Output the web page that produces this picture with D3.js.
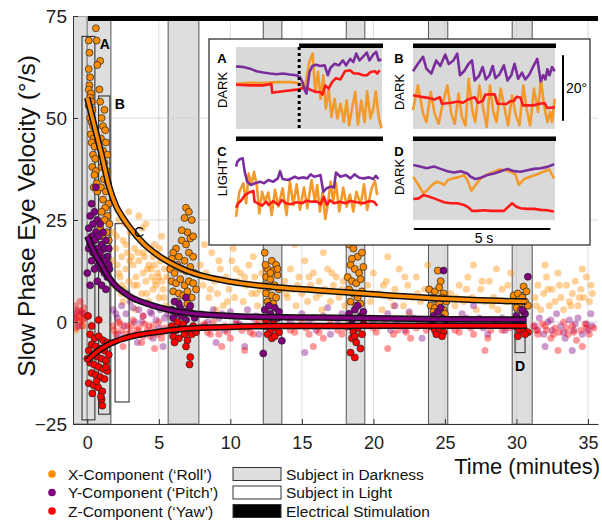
<!DOCTYPE html>
<html>
<head>
<meta charset="utf-8">
<script src="https://cdn.jsdelivr.net/npm/d3@7"></script>
<style>
  body { margin: 0; background: #fff; }
  svg { font-family: "Liberation Sans", Arial, sans-serif; }
</style>
</head>
<body>
<svg id="chart" width="602" height="521"></svg>
<script>
// ---- main panel data (minutes, deg/s) ----
const darkPeriods = [[-1, 0], [0, 1.65], [5.65, 7.8], [12.3, 13.6], [18.1, 19.4], [23.85, 25.2], [29.7, 31.1]]
const stimStart = 0.05
const sampleBoxes = [
  { label: 'A', t: [-0.37, 0.53], v: [-24, 70], bold: true },
  { label: 'B', t: [0.79, 1.58], v: [-22.6, 55.4], bold: true },
  { label: 'C', t: [1.94, 2.92], v: [-19.6, 24.1], bold: false },
  { label: 'D', t: [29.9, 30.6], v: [-7.5, 7.2], bold: true }
]
const xTicks = [0, 5, 10, 15, 20, 25, 30, 35]
const yTicks = [-25, 0, 25, 50, 75]

// fitted curves
const fitT = [0, 0.5, 1, 1.5, 2, 2.5, 3, 4, 5, 7, 10, 13, 16, 20, 25, 30.7]
const fitRoll = [55, 48, 41, 33.5, 28.5, 25.5, 23, 19, 16.2, 12.5, 9.9, 8.6, 7.8, 6.8, 5.7, 5.0]
const fitPitch = [21, 17, 14, 11, 8.8, 7.4, 6.2, 4.7, 3.6, 2.2, 1.5, 1.2, 1.1, 0.9, 0.7, 0.6]
const fitYaw = [-9.5, -7.8, -6.5, -5.5, -4.7, -4.1, -3.6, -2.9, -2.4, -1.6, -1.2, -1.0, -1.0, -0.9, -0.9, -0.9]

// samples recorded in darkness [t, v]
const rollDark = [
  [0.1,69],[0.15,66],[0.1,62],[0.2,60],[0.15,58],[0.1,57],[0.25,56],[0.2,55],[0.3,54],[0.1,53],[0.35,52],[0.2,50],[0.3,49],[0.4,48],[0.25,46],[0.45,45],[0.3,44],[0.5,43],[0.4,41],[0.55,40],[0.35,38],[0.6,37],[0.5,36],[0.65,34],[0.45,33],[0.7,32],
  [0.6,72],[0.65,69],[0.9,64],[0.7,63],[0.85,57],[0.9,54],[1.2,52],[1.0,50],[1.1,48],[1.25,47],[0.95,45],[1.3,44],[1.1,42],[1.4,41],[1.2,39],[1.0,38],[1.35,37],[1.15,35],[1.45,34],[0.95,33],[1.3,32],[1.1,30],[1.5,29],[1.25,28],[1.0,27],[1.4,26],[1.2,25],[1.55,24],[0.9,23],[1.35,22],[1.05,21],[1.5,20],[1.2,18],[1.4,16],
  [6.9,28],[7.1,27],[6.8,25.5],[7.3,25],[7.0,22],[6.6,20],[7.2,20.5],[6.2,18],[6.0,17],[5.9,15.5],[6.4,16],[6.8,15],[7.1,17],[7.4,16],[5.8,13],[6.1,12],[6.3,14],[6.6,13],[6.9,12.5],[7.2,13.5],[7.5,12],[5.9,10],[6.2,9.5],[6.5,10.5],[6.8,9],[7.1,10],[7.4,9.5],[6.0,7.5],[6.4,7],[6.7,6.5],[7.0,7.5],[7.3,6],[7.6,8],[6.3,5],[7.0,4.5],[6.6,22.5],[6.9,19],[7.4,21],
  [12.4,17],[12.9,15],[13.2,14],[12.6,13],[13.0,12.5],[12.5,11],[12.8,10.5],[13.3,11.5],[12.4,9],[12.7,8.5],[13.1,9],[13.4,8],[12.5,7],[12.9,6.5],[13.2,6],[12.6,5],[13.0,4.5],[12.8,12],[13.3,13],[12.45,14],
  [18.3,19],[18.6,18],[18.9,16],[19.2,17],[18.4,14],[18.7,13],[19.0,12],[19.3,13.5],[18.2,11],[18.5,10],[18.8,9.5],[19.1,10.5],[18.3,8],[18.6,7],[18.9,6],[19.2,7.5],[18.4,5],[18.8,4],[19.1,4.5],[18.5,15.5],[19.0,20],
  [24.5,12.6],[24.7,10],[23.9,8],[24.3,7.5],[24.6,8.5],[24.9,7],[24.1,6],[24.4,5.5],[24.8,6],[25.1,5],[24.0,4],[24.3,3.5],[24.6,4.5],[24.9,3],[24.2,2.5],[25.0,2],
  [30.5,8.7],[29.8,6.5],[30.1,7],[30.4,6],[30.7,7.5],[29.9,5],[30.2,4.5],[30.6,5],[30.0,3.5],[30.3,3],[30.8,4],[30.5,2.5]
]
const pitchDark = [
  [0.6,33],[0.3,29],[0.5,27],[0.2,26],[0.7,25],[0.4,24],[0.9,24],[0.1,23],[0.6,22],[1.1,22],[0.3,21],[0.8,21],[1.3,20],[0.5,20],[1.0,19],[0.2,19],[0.7,18],[1.2,18],[1.5,18],[0.4,17],[0.9,17],[1.4,16],[0.6,16],[1.1,15.5],[0.3,15],[1.3,15],[0.8,14],[1.5,14],[1.0,13],[0.5,13],[1.2,12],[1.4,11],[0.7,10],[1.0,9],[0.0,12],[0.1,18],[1.55,13],[0.2,9],[1.3,8],
  [5.9,3],[6.2,2],[6.5,3.5],[6.8,2.5],[7.1,3],[7.4,2],[6.0,1],[6.6,1.5],[7.2,4],[6.4,4.5],[6.9,0.5],[7.5,1],[6.1,5],[6.9,6],
  [12.4,3],[12.8,2],[13.1,3.5],[13.4,2.5],[12.6,1],[13.0,0.5],[12.7,4],[13.3,1],[12.3,-7.7],[13.6,-4.6],
  [18.3,2],[18.7,3],[19.1,1.5],[18.5,0.5],[18.9,4],[19.3,2.5],[18.4,-1],
  [24.9,12.6],[24.2,1.5],[24.5,2.5],[24.8,1],[24.1,0],[24.7,3.5],[25.1,0.5],
  [30.8,11.1],[30.0,1.5],[30.3,0.5],[30.6,2],[29.9,-0.5],[30.4,3]
]
const yawDark = [
  [0.05,1.5],[0.3,-1],[0.8,0.5],
  [0.2,-3],[0.5,-4],[0.8,-3.5],[1.1,-4.5],[1.4,-5],[0.3,-5.5],[0.6,-6],[0.9,-6.5],[1.2,-7],[0.1,-7],[0.4,-8],[0.7,-8.5],[1.0,-9],[1.3,-9.5],[1.5,-8],[0.2,-10],[0.5,-10.5],[0.8,-11],[1.1,-11.5],[1.4,-12],[0.3,-12.5],[0.6,-13],[0.9,-13.5],[1.2,-14],[0.1,-15],[0.45,-15.5],[0.75,-16],[1.05,-17],[0.35,-17.5],[1.0,-19],[1.05,-20.5],[0.95,-18.3],[0.65,-14.5],[1.3,-11],[0.0,-9],
  [5.9,-1],[6.2,-2],[6.5,-1.5],[6.8,-3],[7.1,-2],[7.4,-1],[6.0,-3.5],[6.4,-4],[6.7,-0.5],[7.0,-4.5],[7.3,-3],[7.6,-2.5],[6.3,0],[6.9,-6],[7.2,-8.6],[7.15,-10.4],[6.1,-5],
  [12.4,-1],[12.8,-2],[13.2,-1.5],[12.6,-3],[13.0,-0.5],[13.4,-2.5],[12.9,-4],[12.5,0.5],[13.1,-3.5],
  [18.3,-1],[18.6,-2.5],[18.9,-1.5],[19.2,-3],[18.5,-4],[18.8,-5],[19.1,-6.5],[18.4,-7.5],[18.7,-3.5],[19.3,-0.5],[18.7,-8.7],
  [24.0,-1],[24.3,-2],[24.6,-1.5],[24.9,-2.5],[24.4,-3],[24.8,-3.5],
  [29.9,-1],[30.2,-2],[30.5,-1.5],[30.8,-2.5],[30.1,-3.5],[30.6,-3]
]

// samples recorded in light [t, v]
const rollLight = [
  [-0.8,-2],[-0.5,1],[-0.3,-1],
  [1.8,22],[2.0,18],[2.1,14],[2.2,25],[2.3,11],[2.4,16],[2.5,20],[2.6,8],[2.7,13],[2.8,17],[2.9,10],[3.0,22],[3.1,6],[3.2,14],[3.3,18],[3.4,11],[3.5,9],[3.6,15],[3.7,20],[3.8,7],[3.9,12],[4.0,16],[4.1,10],[4.2,13],[4.3,5],[4.4,18],[4.5,11],[4.6,8],[4.7,14],[4.8,9],[4.9,12],[5.0,6],[5.1,15],[5.2,10],[5.3,8],[5.4,13],[5.5,4],[3.6,26],[2.9,27],[4.1,24],[5.2,21],[1.9,9],[2.5,5],[3.4,3],
  [2.2,12],[2.7,19],[3.1,16],[3.5,21],[3.9,17],[4.3,14],[4.7,19],[5.0,11],[2.4,9],[4.6,16],
  [1.75,15],[2.05,21],[2.35,7],[2.65,24],[2.95,15],[3.25,9],[3.55,17],[3.85,23],[4.15,7],[4.45,13],[4.75,10],[5.05,18],[5.35,6],[5.55,11],
  [7.9,14],[8.1,9],[8.3,12],[8.5,6],[8.7,17],[8.9,10],[9.1,7],[9.3,13],[9.5,4],[9.7,11],[9.9,8],[10.1,15],[10.3,6],[10.5,10],[10.7,12],[10.9,5],[11.1,9],[11.3,14],[11.5,7],[11.7,11],[11.9,4],[12.1,8],[8.2,19],[10.2,18],[11.6,16],[9.0,3],
  [8.0,11],[8.6,8],[9.2,15],[9.8,5],[10.4,13],[11.0,11],[11.8,7],[12.2,12],
  [13.8,10],[14.0,6],[14.2,13],[14.4,8],[14.6,4],[14.8,11],[15.0,7],[15.2,15],[15.4,5],[15.6,9],[15.8,12],[16.0,6],[16.2,10],[16.4,3],[16.6,8],[16.8,13],[17.0,5],[17.2,9],[17.4,11],[17.6,6],[17.8,8],[18.0,4],[16.5,17],[14.5,19],
  [13.9,7],[14.7,9],[15.5,11],[16.3,7],[17.1,12],[17.9,10],
  [19.6,9],[19.8,5],[20.0,12],[20.3,7],[20.6,3],[20.9,10],[21.2,6],[21.5,8],[21.8,13],[22.1,4],[22.4,9],[22.7,6],[23.0,11],[23.3,5],[23.6,8],[23.8,14],[21.0,16],[22.5,2],
  [19.9,7],[20.7,9],[21.4,4],[22.2,11],[23.1,7],
  [25.4,7],[25.7,4],[26.0,9],[26.3,5],[26.6,11],[26.9,6],[27.2,3],[27.5,8],[27.8,5],[28.1,10],[28.4,6],[28.7,3],[29.0,8],[29.3,5],[29.6,12],[27.0,14],[28.6,13],
  [25.8,6],[26.5,8],[27.6,10],[28.3,4],[29.4,9],
  [31.3,6],[31.5,9],[31.7,3],[31.9,7],[32.1,11],[32.3,4],[32.5,8],[32.7,5],[32.9,12],[33.1,6],[33.3,3],[33.5,9],[33.7,5],[33.9,7],[34.1,10],[34.3,4],[34.5,8],[34.7,6],[34.9,11],[35.1,5],[35.3,7],[32.0,14],[34.6,13],
  [31.4,4],[32.2,8],[33.0,9],[33.8,4],[34.4,6],[35.2,9]
]
const pitchLight = [
  [-0.9,1],[-0.6,-1],[-0.3,2],[-0.7,2.5],
  [1.8,3],[2.1,1],[2.4,4],[2.7,2],[3.0,5],[3.3,0],[3.6,3],[3.9,1.5],[4.2,4.5],[4.5,2],[4.8,0.5],[5.1,3],[5.4,1],[2.2,-3],[3.5,-5],[4.6,-4],[2.8,7],[5.3,-6],
  [2.0,2],[2.6,-1],[3.2,3.5],[3.8,0],[4.4,2.5],[5.0,-1.5],[5.6,2],
  [8.0,2],[8.4,0],[8.8,3],[9.2,1],[9.6,-2],[10.0,2.5],[10.4,0.5],[10.8,-1],[11.2,3],[11.6,1],[12.0,-3],[9.0,-5],[11.0,-6],
  [8.2,-1],[9.4,2],[10.6,-0.5],[11.8,1.5],
  [14.0,1],[14.5,-1],[15.0,2],[15.5,0],[16.0,-2],[16.5,1.5],[17.0,-3],[17.5,0.5],[15.2,-7.5],[16.8,3.5],
  [14.2,0],[15.8,1],[16.9,-1],[17.8,2],
  [19.8,1],[20.4,-1],[21.0,2],[21.6,0],[22.2,-2],[22.8,1],[23.4,-4],[21.5,4],
  [20.0,0],[21.2,-2],[22.5,2.5],[23.6,0],
  [25.6,0],[26.2,2],[26.8,-1],[27.4,1],[28.0,-3],[28.6,0.5],[29.2,-2],[27.0,4],
  [25.9,-1],[26.5,1],[27.7,-1.5],[29.0,1],
  [31.3,-1],[31.6,1],[31.9,-3],[32.2,0],[32.5,-2],[32.8,2],[33.1,-1],[33.4,-4],[33.7,0.5],[34.0,-2],[34.3,1],[34.6,-3],[34.9,-0.5],[35.2,2],[32.0,-6],[33.9,-7],[35.3,-1],
  [31.5,-2],[32.4,0.5],[33.3,-2.5],[34.1,-0.5],[35.0,-2]
]
const yawLight = [
  [-0.95,2],[-0.85,4],[-0.75,1],[-0.65,3],[-0.55,0],[-0.45,2.5],[-0.35,-1],[-0.25,3.5],[-0.15,1],[-0.8,-1.5],[-0.5,5],[-0.3,0.5],[-0.9,0],[-0.6,1.5],[-0.2,2],
  [1.8,-1],[2.0,-3],[2.2,0],[2.4,-2],[2.6,-4],[2.8,-1],[3.0,-2.5],[3.2,0.5],[3.4,-3],[3.6,-1.5],[3.8,-5],[4.0,-0.5],[4.2,-2],[4.4,-3.5],[4.6,-1],[4.8,-2.5],[5.0,0],[5.2,-4],[5.4,-1.5],[2.5,-6],[3.9,1.5],[4.7,-6.5],
  [1.9,-2],[2.3,-0.5],[2.7,-3],[3.1,-1],[3.5,-2],[3.9,-3.5],[4.3,-1],[4.9,-3],[5.3,-2.5],
  [8.0,-1],[8.4,-2.5],[8.8,0],[9.2,-3],[9.6,-1],[10.0,-4],[10.4,-0.5],[10.8,-2],[11.2,-1.5],[11.6,-3],[12.0,0],[9.4,-6],[11.0,-7],
  [8.2,-0.5],[8.6,-3],[9.0,-1.5],[9.8,-2.5],[10.6,-1],[11.4,-2.5],[11.8,-0.5],
  [14.0,-1],[14.5,-2.5],[15.0,0],[15.5,-3],[16.0,-1],[16.5,-4],[17.0,-0.5],[17.5,-2],[18.0,-1.5],[15.8,-6],
  [14.2,-2],[14.8,-1],[15.3,-1.5],[16.2,-2.5],[16.8,-1],[17.8,-3],
  [19.7,-1],[20.2,-2.5],[20.8,0],[21.4,-3],[22.0,-1],[22.6,-4],[23.2,-0.5],[23.7,-2],[21.0,-6.5],
  [20.0,-1.5],[20.5,-1],[21.7,-2],[22.3,-2.5],[23.0,-1.5],
  [25.5,-1],[26.0,-2.5],[26.5,0],[27.0,-3],[27.5,-1],[28.0,-4],[28.5,-0.5],[29.0,-2],[29.5,-1.5],[27.8,-7],
  [25.7,-2],[26.8,-1.5],[28.2,-2],[29.2,-1],
  [31.2,-1],[31.5,-3],[31.8,-0.5],[32.1,-2],[32.4,-4],[32.7,-1.5],[33.0,-2.5],[33.3,0],[33.6,-3],[33.9,-1],[34.2,-4.5],[34.5,-2],[34.8,-0.5],[35.1,-3],[35.4,-1.5],[32.9,-7],[34.6,-6],
  [31.4,-2],[32.0,-1],[32.6,-3],[33.5,-1.5],[34.0,-2.5],[34.9,-1.5]
]

// ---- inset traces [seconds, degrees] ----
const insetA_pitch = [[0,19.1],[0.26,18.9],[0.5,18.4],[0.73,17.6],[0.97,17.2],[1.21,16.9],[1.44,16.7],[1.68,16.9],[1.91,16.6],[2.15,16.4],[2.27,15.9],[2.36,14.5],[2.45,11.8],[2.51,10.8],[2.57,14.3],[2.62,17.4],[2.72,19.2],[2.86,19.6],[3.0,19.2],[3.16,19.4],[3.27,16.4],[3.36,18.6],[3.51,19.9],[3.66,19.4],[3.81,20.9],[3.92,19.4],[4.07,21.4],[4.18,20.4],[4.28,23.0],[4.4,20.9],[4.52,22.0],[4.66,23.3],[4.75,20.9],[4.89,22.7],[4.99,23.5],[5.08,20.9],[5.18,21.2]]
const insetA_roll = [[0,13.8],[0.5,14.1],[0.97,14.0],[1.45,14.3],[1.92,14.3],[2.22,14.0],[2.34,13.3],[2.42,12.5],[2.49,14.3],[2.61,20.4],[2.73,23.0],[2.82,11.3],[2.92,17.4],[3.01,9.2],[3.11,16.4],[3.2,6.2],[3.3,12.3],[3.4,3.7],[3.51,9.2],[3.61,3.2],[3.72,7.7],[3.84,2.1],[3.94,8.7],[4.03,1.1],[4.13,6.2],[4.25,11.3],[4.34,1.3],[4.46,8.7],[4.58,2.1],[4.67,11.5],[4.79,3.2],[4.89,6.2],[4.98,11.5],[5.08,3.7],[5.18,0.3]]
const insetA_yaw = [[0,13.5],[0.5,13.3],[0.97,13.3],[1.26,13.7],[1.29,11.1],[1.68,11.5],[2.16,12.0],[2.4,12.5],[2.54,12.5],[2.69,11.8],[2.85,11.3],[2.99,11.3],[3.08,10.5],[3.18,13.3],[3.3,12.3],[3.42,14.3],[3.56,15.5],[3.72,15.1],[3.88,17.6],[4.06,17.9],[4.2,16.9],[4.35,16.9],[4.53,16.4],[4.67,16.4],[4.79,17.4],[4.95,17.6],[5.03,16.9],[5.12,17.9]]
const insetB_pitch = [[0,17.6],[0.18,19.9],[0.37,22.0],[0.49,18.4],[0.67,16.9],[0.85,20.9],[1.0,19.2],[1.18,22.7],[1.31,19.8],[1.48,20.9],[1.62,23.0],[1.72,16.4],[1.87,17.6],[2.04,19.9],[2.16,20.9],[2.26,14.8],[2.41,16.1],[2.55,18.9],[2.67,15.1],[2.8,16.4],[2.92,19.2],[3.02,15.5],[3.16,16.6],[3.33,19.4],[3.46,14.8],[3.6,16.4],[3.72,19.9],[3.85,15.3],[3.99,17.2],[4.11,15.1],[4.26,16.6],[4.41,19.2],[4.55,21.4],[4.68,14.5],[4.77,16.4],[4.85,15.1],[4.92,18.2],[5.0,16.4],[5.09,18.9],[5.19,17.6]]
const insetB_roll = [[0,5.7],[0.18,13.3],[0.37,4.7],[0.49,2.1],[0.65,11.3],[0.79,4.7],[0.94,1.6],[1.1,8.2],[1.26,13.3],[1.4,4.7],[1.53,1.6],[1.67,10.8],[1.79,3.7],[1.92,1.1],[2.04,15.3],[2.16,6.2],[2.28,2.1],[2.43,13.3],[2.55,7.2],[2.7,0.6],[2.82,13.3],[2.94,5.2],[3.06,2.1],[3.21,12.3],[3.36,6.2],[3.48,1.1],[3.63,10.3],[3.75,4.7],[3.9,1.1],[4.04,13.3],[4.16,6.2],[4.29,1.1],[4.43,12.3],[4.58,5.2],[4.68,15.3],[4.8,7.2],[4.92,2.1],[5.02,5.2],[5.09,2.1],[5.19,9.2]]
const insetB_yaw = [[0,10.3],[0.31,9.8],[0.55,9.5],[0.79,9.0],[0.98,9.7],[1.06,7.7],[1.4,8.0],[1.65,8.4],[1.83,8.0],[2.01,9.0],[2.26,9.7],[2.38,8.0],[2.56,8.6],[2.65,10.5],[2.99,10.6],[3.09,7.7],[3.42,7.6],[3.54,8.4],[3.7,8.6],[3.79,9.8],[3.94,9.5],[4.03,7.2],[4.4,7.2],[4.64,7.7],[4.82,7.9],[4.92,6.4],[5.19,6.6]]
const insetC_pitch = [[0,16.9],[0.05,18.4],[0.14,19.2],[0.24,19.4],[0.31,15.3],[0.4,12.3],[0.52,11.3],[0.68,11.8],[0.85,12.3],[1.0,11.8],[1.15,12.8],[1.33,12.3],[1.49,13.3],[1.57,15.5],[1.66,13.1],[1.86,12.8],[2.1,13.8],[2.22,13.3],[2.37,13.6],[2.54,13.3],[2.66,14.5],[2.78,13.8],[2.93,14.1],[3.01,14.3],[3.11,9.2],[3.23,10.3],[3.37,10.8],[3.49,10.5],[3.56,15.1],[3.72,13.8],[3.91,14.3],[4.08,13.3],[4.22,14.5],[4.39,13.5],[4.55,13.3],[4.74,13.6],[4.89,13.1],[4.98,14.1],[5.07,13.1]]
const insetC_roll = [[0,1.6],[0.12,9.2],[0.26,11.8],[0.36,5.7],[0.45,14.8],[0.55,11.3],[0.64,15.3],[0.74,11.3],[0.83,2.6],[0.93,9.2],[1.03,6.2],[1.15,9.0],[1.27,2.1],[1.39,9.8],[1.51,4.7],[1.66,10.3],[1.8,2.1],[1.92,12.3],[2.04,5.2],[2.16,11.5],[2.28,3.7],[2.42,10.5],[2.54,4.2],[2.69,12.8],[2.81,6.2],[2.89,11.3],[2.99,3.2],[3.08,9.0],[3.18,0.9],[3.27,5.4],[3.37,12.3],[3.46,6.2],[3.56,11.8],[3.68,3.2],[3.82,10.5],[3.94,4.7],[4.06,8.4],[4.18,3.2],[4.29,9.2],[4.44,5.2],[4.56,11.5],[4.67,3.7],[4.83,10.3],[4.95,12.5],[5.03,8.2]]
const insetC_yaw = [[0,4.4],[0.08,5.7],[0.2,6.7],[0.32,8.2],[0.47,9.0],[0.62,9.5],[0.66,6.2],[0.78,5.7],[0.93,5.0],[1.07,6.2],[1.16,5.2],[1.33,6.4],[1.51,5.2],[1.63,6.7],[1.78,5.7],[1.95,5.4],[2.16,6.0],[2.35,5.7],[2.51,6.5],[2.7,6.2],[2.89,6.2],[3.01,5.4],[3.13,7.7],[3.23,5.2],[3.35,6.6],[3.49,5.7],[3.7,6.2],[3.89,5.7],[4.08,6.4],[4.29,6.0],[4.53,5.7],[4.77,6.4],[4.91,6.2],[5.03,5.0]]
const insetD_pitch = [[0.01,17.4],[0.26,16.9],[0.5,16.4],[0.77,16.9],[1.01,16.2],[1.26,15.5],[1.5,15.1],[1.75,15.5],[1.99,14.8],[2.11,13.8],[2.28,13.1],[2.48,13.5],[2.72,14.3],[2.97,14.8],[3.21,15.5],[3.46,16.2],[3.7,15.5],[3.94,15.3],[4.19,15.8],[4.43,16.2],[4.68,16.4],[4.92,16.8],[5.17,17.6]]
const insetD_roll = [[0.01,13.8],[0.2,11.3],[0.38,8.7],[0.53,9.8],[0.7,11.3],[0.87,12.3],[1.04,11.8],[1.14,11.3],[1.28,12.8],[1.45,13.3],[1.65,13.6],[1.87,14.3],[1.99,12.8],[2.14,9.5],[2.28,11.1],[2.48,13.3],[2.72,14.5],[2.97,15.3],[3.16,16.0],[3.38,15.8],[3.58,15.3],[3.75,14.5],[3.87,11.3],[4.07,13.1],[4.29,13.8],[4.53,14.5],[4.77,15.3],[4.99,16.0],[5.16,13.3]]
const insetD_yaw = [[0.01,7.0],[0.21,7.2],[0.38,8.2],[0.57,7.8],[0.77,7.2],[0.96,6.6],[1.14,6.0],[1.38,5.7],[1.62,5.7],[1.87,5.2],[2.04,4.4],[2.16,3.4],[2.36,3.4],[2.6,3.6],[2.84,3.4],[3.09,3.4],[3.33,3.4],[3.46,4.4],[3.63,5.7],[3.77,4.7],[3.94,4.2],[4.19,4.0],[4.43,4.0],[4.68,3.7],[4.92,3.6],[5.16,3.2]]
const insetStimA = 2.25

const legendSeries = ["X-Component (\u2018Roll\u2019)", "Y-Component (\u2018Pitch\u2019)", "Z-Component (\u2018Yaw\u2019)"]
const legendPatches = ['Subject in Darkness', 'Subject in Light', 'Electrical Stimulation']

const colRoll = '#ff8c00', colPitch = '#800080', colYaw = '#ff0000'
const inRoll = '#f39a2c', inPitch = '#7a2e9e', inYaw = '#ff1a1a'

const svg = d3.select('#chart')
const pL = 73, pR = 598, pT = 16, pB = 424

const x = d3.scaleLinear().domain([-1, 35.7]).range([pL, pR])
const y = d3.scaleLinear().domain([-25, 75]).range([pB, pT])

svg.append('clipPath').attr('id', 'plotclip')
  .append('rect').attr('x', pL).attr('y', pT).attr('width', pR - pL).attr('height', pB - pT)

const plot = svg.append('g').attr('clip-path', 'url(#plotclip)')

// darkness periods
plot.selectAll('rect.dark').data(darkPeriods).enter().append('rect')
  .attr('x', d => x(d[0])).attr('width', d => x(d[1]) - x(d[0]))
  .attr('y', pT).attr('height', pB - pT)
  .attr('fill', '#dedede').attr('stroke', '#555').attr('stroke-width', 1)

// grid
plot.selectAll('line.gx').data(xTicks).enter().append('line')
  .attr('x1', d => x(d)).attr('x2', d => x(d)).attr('y1', pT).attr('y2', pB)
  .attr('stroke', '#c4c4c4').attr('stroke-opacity', 0.6)
plot.selectAll('line.gy').data(yTicks).enter().append('line')
  .attr('x1', pL).attr('x2', pR).attr('y1', d => y(d)).attr('y2', d => y(d))
  .attr('stroke', '#c4c4c4').attr('stroke-opacity', 0.6)

// sample boxes
plot.selectAll('rect.box').data(sampleBoxes).enter().append('rect')
  .attr('x', d => x(d.t[0])).attr('width', d => x(d.t[1]) - x(d.t[0]))
  .attr('y', d => y(d.v[1])).attr('height', d => y(d.v[0]) - y(d.v[1]))
  .attr('fill', 'none').attr('stroke', '#333').attr('stroke-width', 1.1)

function dots(data, color, outlined) {
  plot.append('g').selectAll('circle').data(data).enter().append('circle')
    .attr('cx', d => x(d[0])).attr('cy', d => y(d[1])).attr('r', 3.5)
    .attr('fill', color)
    .attr('fill-opacity', outlined ? 1 : 0.4)
    .attr('stroke', outlined ? '#222' : 'none').attr('stroke-width', 0.7)
}
dots(rollLight, colRoll, false)
dots(pitchLight, colPitch, false)
dots(yawLight, colYaw, false)
dots(rollDark, colRoll, true)
dots(pitchDark, colPitch, true)
dots(yawDark, colYaw, true)

// fitted curves
const fitLine = d3.line().x(d => x(d[0])).y(d => y(d[1])).curve(d3.curveMonotoneX)
;[[fitRoll, colRoll], [fitPitch, colPitch], [fitYaw, colYaw]].forEach(([vals, c]) => {
  const pts = fitT.map((t, i) => [t, vals[i]])
  plot.append('path').attr('d', fitLine(pts)).attr('fill', 'none').attr('stroke', '#111').attr('stroke-width', 6.5)
  plot.append('path').attr('d', fitLine(pts)).attr('fill', 'none').attr('stroke', c).attr('stroke-width', 3.5)
})

// stimulation bar
plot.append('line').attr('x1', x(stimStart)).attr('x2', pR).attr('y1', y(74.4)).attr('y2', y(74.4))
  .attr('stroke', '#000').attr('stroke-width', 5)

// box labels
svg.selectAll('text.boxlab').data(sampleBoxes).enter().append('text')
  .attr('x', d => d.label === 'D' ? (x(d.t[0]) + x(d.t[1])) / 2 : x(d.t[1]) + 10)
  .attr('y', d => d.label === 'D' ? y(d.v[0]) + 18 : y(d.v[1]) + 13)
  .attr('text-anchor', 'middle')
  .attr('font-size', 14).attr('font-weight', d => d.bold ? 'bold' : 'normal')
  .text(d => d.label)

// axes
const yAxis = d3.axisLeft(y).tickValues(yTicks).tickSizeInner(-5).tickSizeOuter(0).tickPadding(6)
const xAxis = d3.axisBottom(x).tickValues(xTicks).tickSizeInner(-5).tickSizeOuter(0).tickPadding(12)
const gy = svg.append('g').attr('transform', `translate(${pL},0)`).call(yAxis)
const gx = svg.append('g').attr('transform', `translate(0,${pB})`).call(xAxis)
;[gx, gy].forEach(g => {
  g.select('.domain').attr('stroke', '#333')
  g.selectAll('.tick line').attr('stroke', '#333')
  g.selectAll('text').attr('fill', '#222').attr('font-family', '"Liberation Sans", Arial, sans-serif')
})
gy.selectAll('text').attr('font-size', 19)
gx.selectAll('text').attr('font-size', 18)

svg.append('text').attr('transform', 'translate(35,216) rotate(-90)')
  .attr('text-anchor', 'middle').attr('font-size', 24.5).attr('fill', '#111')
  .text('Slow Phase Eye Velocity (\u00b0/s)')
svg.append('text').attr('x', 600).attr('y', 474).attr('text-anchor', 'end')
  .attr('font-size', 22).attr('fill', '#111').text('Time (minutes)')

// legend
const legCols = [colRoll, colPitch, colYaw]
legendSeries.forEach((s, i) => {
  const ly = 474 + i * 18.5
  svg.append('circle').attr('cx', 52).attr('cy', ly).attr('r', 3.8).attr('fill', legCols[i])
  svg.append('text').attr('x', 68).attr('y', ly + 5.5).attr('font-size', 15.5).attr('fill', '#111').text(s)
})
const patchFill = ['#dedede', '#fff', '#000']
legendPatches.forEach((s, i) => {
  const ly = 474 + i * 18.5
  svg.append('rect').attr('x', 233).attr('y', ly - 6.5).attr('width', 48).attr('height', 13)
    .attr('fill', patchFill[i]).attr('stroke', '#333').attr('stroke-width', 1)
  svg.append('text').attr('x', 286).attr('y', ly + 5.5).attr('font-size', 15.5).attr('fill', '#111').text(s)
})

// ---- inset ----
const inset = svg.append('g')
inset.append('rect').attr('x', 209).attr('y', 39).attr('width', 381).attr('height', 206)
  .attr('fill', '#fff').attr('stroke', '#333').attr('stroke-width', 1.3)

const panels = [
  { id: 'A', x0: 236, x1: 382, y0: 129, y1: 47, dark: true, cond: 'DARK', traces: [insetA_roll, insetA_yaw, insetA_pitch], stimFrom: insetStimA, labY: 58, condY: 90 },
  { id: 'B', x0: 413, x1: 555, y0: 129, y1: 47, dark: true, cond: 'DARK', traces: [insetB_roll, insetB_yaw, insetB_pitch], stimFrom: 0, labY: 58, condY: 92 },
  { id: 'C', x0: 236, x1: 382, y0: 222, y1: 140, dark: false, cond: 'LIGHT', traces: [insetC_roll, insetC_yaw, insetC_pitch], stimFrom: 0, labY: 151, condY: 177 },
  { id: 'D', x0: 413, x1: 555, y0: 222, y1: 140, dark: true, cond: 'DARK', traces: [insetD_roll, insetD_yaw, insetD_pitch], stimFrom: 0, labY: 151, condY: 177 }
]
const traceCols = [inRoll, inYaw, inPitch]
panels.forEach(p => {
  const px = d3.scaleLinear().domain([0, 5.2]).range([p.x0, p.x1])
  const py = d3.scaleLinear().domain([0, 25]).range([p.y0, p.y1])
  const g = inset.append('g')
  if (p.dark) {
    g.append('rect').attr('x', p.x0).attr('y', p.y1).attr('width', p.x1 - p.x0)
      .attr('height', (p.id === 'D' ? py(0.6) : p.y0) - p.y1).attr('fill', '#d9d9d9')
  }
  const ln = d3.line().x(d => px(d[0])).y(d => py(d[1]))
  p.traces.forEach((tr, i) => {
    g.append('path').attr('d', ln(tr)).attr('fill', 'none').attr('stroke', traceCols[i])
      .attr('stroke-width', 2.6).attr('stroke-linejoin', 'round')
  })
  // stimulation bar on top of each panel
  g.append('line').attr('x1', px(p.stimFrom)).attr('x2', p.x1 + 1)
    .attr('y1', py(25.4)).attr('y2', py(25.4)).attr('stroke', '#000').attr('stroke-width', 4.5)
  if (p.id === 'A') {
    g.append('line').attr('x1', px(insetStimA)).attr('x2', px(insetStimA))
      .attr('y1', py(25)).attr('y2', py(0)).attr('stroke', '#000')
      .attr('stroke-width', 3).attr('stroke-dasharray', '3,3')
  }
  g.append('text').attr('x', p.x0 - 14).attr('y', p.labY + 5).attr('text-anchor', 'middle')
    .attr('font-size', 13).attr('font-weight', 'bold').text(p.id)
  g.append('text').attr('transform', `translate(${p.x0 - 9},${p.condY}) rotate(-90)`)
    .attr('text-anchor', 'middle').attr('font-size', 13).text(p.cond)
  if (p.id === 'B') {
    g.append('line').attr('x1', 563).attr('x2', 563).attr('y1', py(22.5)).attr('y2', py(2.5))
      .attr('stroke', '#000').attr('stroke-width', 2)
    g.append('text').attr('x', 566).attr('y', 93).attr('font-size', 14).text('20\u00b0')
  }
  if (p.id === 'D') {
    g.append('line').attr('x1', px(0.03)).attr('x2', px(5.03)).attr('y1', 229).attr('y2', 229)
      .attr('stroke', '#000').attr('stroke-width', 2.2)
    g.append('text').attr('x', px(2.6)).attr('y', 243).attr('text-anchor', 'middle').attr('font-size', 14).text('5 s')
  }
})
</script>
</body>
</html>
